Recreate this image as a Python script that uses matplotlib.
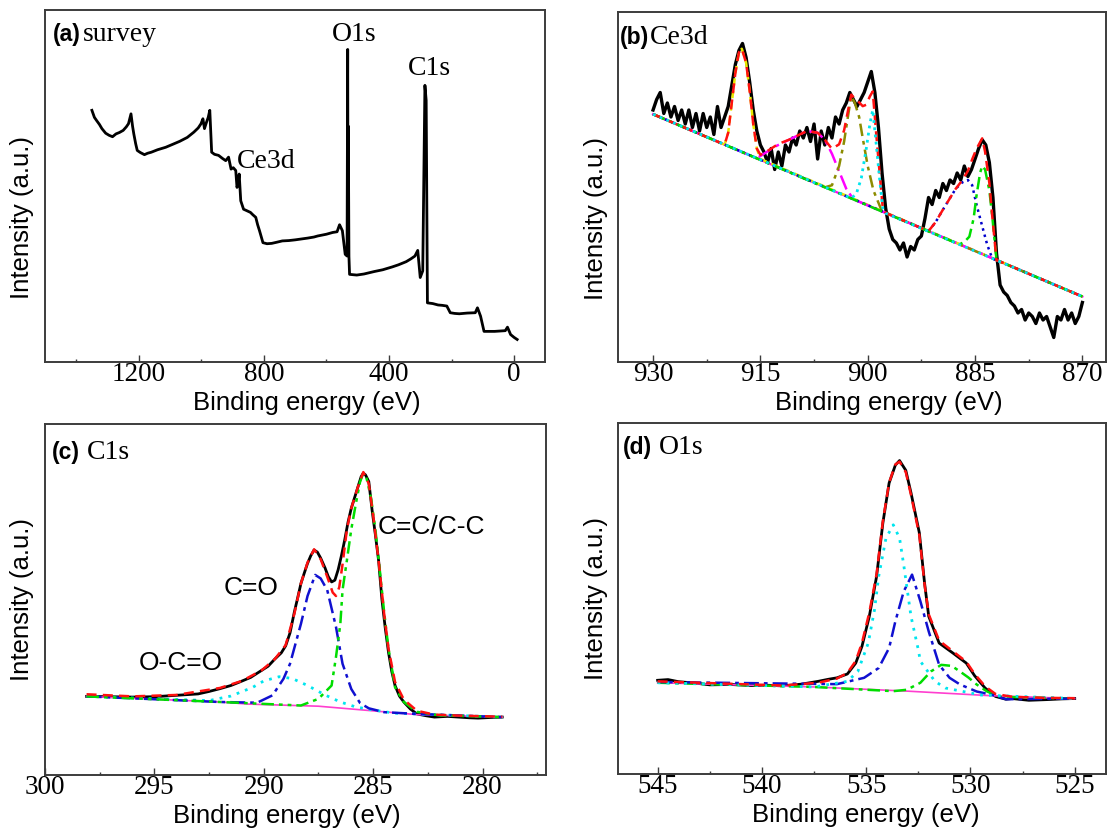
import numpy as np
import matplotlib

matplotlib.use("Agg")
import matplotlib.pyplot as plt

SERIF = "Liberation Serif"
SANS = "Liberation Sans"

# ---- (a) survey ---------------------------------------------------------
survey_be = [1350, 1342, 1335, 1326, 1318, 1306, 1295, 1284, 1273, 1262,
             1250, 1240, 1233, 1225, 1220, 1216, 1210, 1205, 1195, 1182,
             1172, 1160, 1140, 1114, 1090, 1069, 1045, 1024, 1010, 1001,
             995, 990, 984, 978, 973, 967, 958, 945, 932, 922,
             913, 905, 898, 890, 886, 882, 879, 874, 865, 855,
             843, 835, 826, 820, 814, 803, 790, 775, 760, 741,
             720, 700, 684, 660, 640, 628, 600, 580, 566, 558,
             549, 540, 534, 532, 531, 530, 528, 526, 515, 503,
             480, 447, 420, 390, 370, 345, 330, 317, 308, 300,
             292, 285, 281, 277, 260, 243, 230, 215, 204, 190,
             175, 150, 124, 117, 107, 96, 80, 62, 45, 28,
             21, 11, 0, -10]
survey_int = [71.5, 69.5, 68.6, 67.5, 66.3, 65.0, 64.4, 64.0, 64.8, 65.2,
              65.8, 66.8, 67.7, 70.5, 67.0, 64.8, 62.0, 60.1, 59.5, 58.9,
              59.3, 59.6, 60.3, 61.0, 61.9, 62.7, 63.8, 65.3, 66.5, 67.7,
              69.1, 66.3, 68.0, 69.5, 71.5, 59.6, 59.0, 58.7, 57.8, 57.2,
              58.2, 54.8, 55.2, 54.4, 49.6, 51.0, 53.4, 45.8, 43.4, 43.0,
              42.5, 41.8, 41.1, 39.0, 37.3, 33.9, 33.6, 33.7, 34.0, 34.4,
              34.5, 34.7, 34.9, 35.2, 35.5, 35.8, 36.3, 36.8, 37.0, 39.0,
              37.3, 30.6, 30.1, 88.8, 40.0, 67.0, 30.0, 24.9, 24.8, 24.7,
              25.0, 25.7, 26.2, 27.0, 27.6, 28.5, 29.3, 30.1, 31.7, 24.0,
              25.9, 78.6, 74.3, 16.8, 16.6, 16.2, 16.1, 15.9, 14.0, 13.8,
              13.7, 13.9, 14.0, 15.4, 13.0, 8.7, 8.7, 8.7, 8.8, 8.9,
              9.9, 7.8, 7.0, 6.4]

# ---- (b) Ce3d -----------------------------------------------------------
ce_be = np.arange(930.0, 869.9, -0.5)
ce_int = [72, 75, 77, 71, 74, 70, 73, 69, 72, 68,
          72, 67, 71, 66, 71, 67, 70, 65, 73, 67,
          70, 73, 79, 85, 89, 91, 87, 80, 72, 66,
          62, 60, 57, 61, 55, 60, 56, 62, 60, 64,
          62, 66, 64, 67, 63, 68, 58, 66, 62, 67,
          64, 70, 68, 72, 74, 77, 75, 73, 75, 77,
          80, 83, 77, 67, 54, 44, 38, 35, 34, 32,
          34, 30, 33, 32, 35, 36, 41, 47, 45, 49,
          47, 51, 49, 52, 51, 54, 52, 56, 53, 55,
          58, 61, 63.5, 62, 57, 47, 31, 22, 20, 19,
          17, 16, 14, 15, 12, 14, 13, 11, 14, 12,
          13, 10, 7, 13, 12, 15, 12, 14, 11, 13,
          17]

ce_base_be = [930, 870]
ce_base_int = [70.8, 18.7]

ce_fit_be = [930, 920.0, 919.5, 919, 918.5, 918, 917.6, 917, 916.5, 916,
             915.5, 915, 914, 912.5, 911, 909.5, 908.5, 907, 906, 905,
             904, 903.3, 902.7, 902.3, 901.8, 901.2, 900.7, 900.2, 899.7, 899.3,
             898.8, 898.3, 897.9, 897.5, 891.5, 890.5, 889.5, 888.6, 887.7, 886.8,
             886.0, 885.4, 884.8, 884.0, 883.6, 883.0, 882.6, 882.0, 881.5, 870]
ce_fit_int = [70.8, 62.1, 65.5, 74.0, 82.5, 88.5, 89.5, 85.5, 77.5, 68.0,
              61.0, 59.2, 60.3, 62.3, 63.5, 65.0, 66.0, 65.5, 63.5, 60.9,
              62.2, 66.2, 72.4, 76.4, 75.2, 74.2, 73.1, 73.5, 75.9, 77.3,
              64.9, 53.2, 44.0, 42.6, 37.4, 40.0, 43.5, 46.5, 49.5, 51.9,
              54.6, 57.9, 60.9, 63.9, 60.1, 51.1, 41.7, 29.1, 28.7, 18.7]

ce_p1_be = [930, 920.0, 919.5, 919.0, 918.5, 918.0, 917.6, 917.0, 916.5, 916.0, 915.5, 915.0, 870]
ce_p1_int = [70.8, 62.1, 65.5, 74.0, 82.5, 88.5, 89.5, 85.5, 77.5, 68.0, 61.0, 58.0, 18.7]

ce_p2_be = [930, 915.5, 914.5, 913, 911.5, 910, 908.5, 907, 906, 905, 904, 903, 902, 870]
ce_p2_int = [70.8, 58.2, 59.5, 61.5, 63.0, 64.5, 66.0, 65.5, 63.5, 59.5, 54.5, 49.5, 46.5, 18.7]

ce_p3_be = [930, 906, 905, 904, 903.3, 902.7, 902.3, 901.8, 901.2, 900.7, 900.0, 899.2, 898.5, 898.0, 870]
ce_p3_int = [70.8, 49.9, 50.5, 56.0, 63.0, 71.0, 76.0, 74.0, 70.0, 64.0, 56.0, 49.0, 45.5, 43.0, 18.7]

ce_p4_be = [930, 902.3, 901.6, 900.9, 900.2, 899.7, 899.3, 898.8, 898.3, 897.9, 897.5, 870]
ce_p4_int = [70.8, 46.8, 48.0, 52.5, 61.0, 68.0, 72.0, 62.0, 51.5, 44.0, 42.5, 18.7]

ce_p5_be = [930, 891.5, 890.5, 889.5, 888.6, 887.7, 886.8, 886.0, 885.4, 884.8, 884.0, 883.3, 882.6, 870]
ce_p5_int = [70.8, 37.4, 40.0, 43.5, 46.5, 49.5, 51.3, 52.0, 50.5, 45.0, 38.8, 33.5, 29.6, 18.7]

ce_p6_be = [930, 887.2, 886.5, 885.8, 885.2, 884.8, 884.3, 884.0, 883.6, 883.0, 882.6, 882.0, 870]
ce_p6_int = [70.8, 33.6, 34.3, 35.8, 41.0, 47.5, 54.0, 56.0, 55.0, 49.0, 41.7, 29.1, 18.7]

# ---- (c) C1s ------------------------------------------------------------
c1s_be = [298.1, 297.0, 296.0, 295.0, 294.0, 293.0, 292.5, 292.0, 291.5, 291.1,
          290.6, 290.1, 289.8, 289.5, 289.2, 289.0, 288.8, 288.6, 288.45, 288.3,
          288.15, 288.0, 287.85, 287.7, 287.55, 287.4, 287.2, 287.05, 286.9, 286.75,
          286.6, 286.45, 286.3, 286.15, 286.0, 285.85, 285.7, 285.55, 285.45, 285.35,
          285.2, 285.05, 284.9, 284.75, 284.6, 284.45, 284.3, 284.15, 284.0, 283.8,
          283.6, 283.3, 283.0, 282.6, 282.2, 281.6, 281.1, 280.6, 280.2, 279.6, 279.1]
c1s_int = [22.4, 22.3, 22.2, 22.3, 22.7, 23.1, 23.8, 24.6, 25.5, 26.5,
           27.8, 29.8, 31.0, 33.0, 34.8, 36.8, 40.5, 46.5, 50.5, 54.6,
           57.5, 60.3, 62.5, 64.1, 63.5, 61.8, 59.0, 56.5, 55.0, 55.5,
           58.5, 62.5, 67.0, 72.0, 76.0, 79.0, 82.0, 85.0, 86.0, 85.5,
           83.6, 75.5, 68.5, 61.0, 50.0, 42.0, 35.0, 29.5, 25.5, 22.5,
           20.8, 18.8, 17.4, 16.9, 16.5, 16.7, 16.5, 16.3, 16.2, 16.4, 16.5]

c1s_fit_be = [298.1, 296, 294, 292, 291, 290.1, 289.5, 289.0, 288.6, 288.3,
              288.0, 287.7, 287.4, 287.1, 286.85, 286.7, 286.55, 286.4, 286.2, 286.0,
              285.7, 285.45, 285.2, 285.0, 284.75, 284.5, 284.3, 284.0, 283.6, 283.0,
              282.2, 281.0, 279.1]
c1s_fit_int = [23.0, 22.4, 22.8, 24.8, 26.8, 29.8, 33.0, 37.0, 46.0, 54.6,
               60.5, 64.3, 61.5, 56.5, 52.0, 51.0, 53.5, 60.0, 70.0, 76.0,
               82.0, 86.3, 83.0, 74.0, 61.0, 46.0, 36.0, 26.5, 21.5, 18.3,
               17.2, 16.9, 16.6]

c1s_base_be = [298.1, 292.0, 290.7, 287.5, 284.3, 283.0, 279.1]
c1s_base_int = [22.4, 20.8, 20.2, 19.6, 17.9, 17.2, 16.5]

c1s_co_be = [298.1, 292.0, 290.3, 289.6, 289.1, 288.8, 288.3, 288.0, 287.65, 287.4,
             287.1, 286.7, 286.4, 286.0, 285.6, 285.2, 284.5, 283.0, 279.1]
c1s_co_int = [22.4, 20.8, 20.6, 22.7, 27.4, 31.7, 43.1, 51.0, 57.0, 56.0,
              52.7, 42.2, 31.7, 24.5, 20.5, 19.0, 17.9, 17.4, 16.5]

c1s_cc_be = [298.1, 292.0, 288.3, 287.5, 286.9, 286.7, 286.5, 286.4, 286.2, 286.0,
             285.8, 285.6, 285.45, 285.3, 285.1, 284.9, 284.7, 284.5, 284.3, 284.0,
             283.6, 283.0, 282.0, 279.1]
c1s_cc_int = [22.4, 20.8, 19.8, 21.7, 25.5, 33.6, 43.1, 52.7, 61.2, 70.0,
              77.0, 83.5, 86.0, 84.5, 79.0, 70.0, 58.5, 46.5, 36.0, 25.0,
              20.8, 18.0, 17.0, 16.5]

c1s_oco_be = [298.1, 292.5, 291.5, 290.5, 290.0, 289.3, 288.7, 288.0, 287.2, 286.5,
              285.8, 285.0, 284.0, 279.1]
c1s_oco_int = [22.4, 21.2, 22.5, 25.0, 26.8, 28.0, 27.5, 25.5, 22.8, 20.8,
               19.4, 18.5, 17.6, 16.5]

# ---- (d) O1s ------------------------------------------------------------
o1s_be = [545, 544.5, 544, 543.2, 542.5, 541.5, 540.5, 539.8, 539, 538.1,
          537.3, 536.8, 536.4, 535.9, 535.5, 535.2, 534.85, 534.5, 534.2, 533.9,
          533.6, 533.4, 533.1, 532.85, 532.45, 532.2, 532.0, 531.5, 530.85, 530.2,
          529.8, 529.3, 528.8, 528.3, 528.0, 527.2, 526.3, 525.6, 525.0]
o1s_int = [26.7, 26.9, 26.3, 25.9, 25.4, 25.5, 25.2, 25.3, 25.1, 25.6,
           26.4, 27.0, 27.4, 28.5, 31.6, 36.4, 44.9, 56.3, 71.5, 82.9,
           88.0, 89.3, 86.5, 80.1, 68.7, 54.4, 44.9, 37.3, 34.5, 31.6,
           28.0, 24.5, 22.1, 21.3, 21.5, 21.0, 21.2, 21.4, 21.5]

o1s_fit_be = [545, 543, 541, 539, 537.3, 536.4, 535.9, 535.5, 535.2, 534.85,
              534.5, 534.2, 533.9, 533.6, 533.4, 533.1, 532.85, 532.45, 532.2, 532.0,
              531.5, 530.85, 530.2, 529.8, 529.3, 528.8, 528.0, 526.5, 525.0]
o1s_fit_int = [26.4, 26.0, 25.6, 25.2, 26.0, 27.2, 28.8, 32.2, 37.4, 46.0,
               57.0, 72.0, 83.0, 88.2, 89.0, 86.0, 79.5, 68.0, 54.0, 45.5,
               38.0, 35.0, 32.0, 28.5, 25.0, 22.8, 22.0, 21.7, 21.6]

o1s_base_be = [545, 537.5, 533, 529, 525]
o1s_base_int = [26.0, 24.8, 23.6, 22.3, 21.5]

o1s_p1_be = [545, 537.5, 535.9, 535.4, 534.9, 534.6, 534.4, 534.05, 533.7, 533.4,
             533.2, 532.85, 532.5, 532.4, 531.7, 531.2, 529.5, 525]
o1s_p1_int = [26.0, 24.8, 26.4, 29.2, 37.3, 46.8, 56.3, 67.2, 71.0, 67.2,
              59.6, 44.9, 35.4, 32.1, 26.4, 24.5, 22.5, 21.5]

o1s_p2_be = [545, 536.4, 535.1, 534.4, 533.9, 533.6, 533.2, 532.8, 532.4, 532.0,
             531.5, 531.0, 530.5, 529.7, 529.0, 528.3, 525]
o1s_p2_int = [26.2, 25.6, 27.4, 30.2, 35.9, 43.5, 52.0, 56.8, 49.2, 40.6,
              31.1, 27.4, 25.5, 23.5, 22.6, 21.3, 21.5]

o1s_p3_be = [545, 537.5, 533.7, 533.05, 532.4, 531.9, 531.4, 530.9, 530.5, 530.1,
             529.7, 529.2, 528.6, 525]
o1s_p3_int = [26.0, 24.8, 23.6, 24.0, 26.0, 29.2, 31.1, 30.8, 29.2, 27.5,
              25.5, 23.5, 22.0, 21.5]

FRAME = "#3c3c3c"
W, H = 1108, 831


def make_axes(fig, left, top, right, bottom):
    return fig.add_axes([left / W, 1 - bottom / H, (right - left) / W, (bottom - top) / H])


def style(ax, xlim, major, minor, xlab_x, ylab_y):
    ax.set_xlim(*xlim)
    ax.set_ylim(0, 100)
    ax.set_xticks(major)
    ax.set_xticks(minor, minor=True)
    ax.set_xticklabels([str(m) for m in major], fontfamily=SERIF, fontsize=19.5)
    ax.set_yticks([])
    ax.tick_params(axis="x", which="both", direction="in", top=False, pad=0,
                   color=FRAME, width=1.0)
    ax.tick_params(axis="x", which="major", length=5)
    ax.tick_params(axis="x", which="minor", length=2.5)
    for s in ax.spines.values():
        s.set_color(FRAME)
        s.set_linewidth(1.4)
    ax.set_xlabel("Binding energy (eV)", fontfamily=SANS, fontsize=18.5)
    ax.set_ylabel("Intensity (a.u.)", fontfamily=SANS, fontsize=18.5)
    ax.xaxis.set_label_coords(xlab_x, -0.082)
    ax.yaxis.set_label_coords(-0.021, ylab_y)


def panel_tag(ax, tag, name, x_tag, x_name, y):
    ax.text(x_tag, y, tag, transform=ax.transAxes, fontfamily=SANS,
            fontweight="bold", fontsize=16.5, va="center", ha="left")
    ax.text(x_name, y, name, transform=ax.transAxes, fontfamily=SERIF,
            fontsize=20, va="center", ha="left")


fig = plt.figure(figsize=(W / 100, H / 100), dpi=100)

# (a)
ax = make_axes(fig, 45, 10, 545, 362)
ax.plot(survey_be, survey_int, color="black", lw=2.0)
style(ax, (1500, -99), [1200, 800, 400, 0], [1400, 1000, 600, 200], 0.523, 0.41)
panel_tag(ax, "(a)", "survey", 0.016, 0.075, 0.93)
ax.text(510, 93, "O1s", fontfamily=SERIF, fontsize=20, ha="center", va="center")
ax.text(269, 83.5, "C1s", fontfamily=SERIF, fontsize=20, ha="center", va="center")
ax.text(886, 57, "Ce3d", fontfamily=SERIF, fontsize=20, ha="left", va="center")

# (b)
ax = make_axes(fig, 618, 12, 1106, 362)
ax.plot(ce_be, ce_int, color="black", lw=2.4)
ax.plot(ce_base_be, ce_base_int, color="#ff00ff", lw=1.6)
ax.plot(ce_p1_be, ce_p1_int, color="#e8e800", lw=1.8, ls=(0, (3, 2)))
ax.plot(ce_p2_be, ce_p2_int, color="#ff00ff", lw=1.8, ls=(0, (6, 2, 1.5, 2)))
ax.plot(ce_p3_be, ce_p3_int, color="#8c8c00", lw=1.8, ls=(0, (5, 2, 1.5, 2)))
ax.plot(ce_p5_be, ce_p5_int, color="#0000cc", lw=1.8, ls=(0, (1, 1.6)))
ax.plot(ce_p6_be, ce_p6_int, color="#00dd00", lw=1.8, ls=(0, (5, 2, 1.5, 2)))
ax.plot(ce_fit_be, ce_fit_int, color="#ff1010", lw=1.8, ls=(0, (4, 2.5)))
ax.plot(ce_p4_be, ce_p4_int, color="#00e5ee", lw=2.0, ls=(0, (1, 1.6)))
style(ax, (934.9, 866.7), [930, 915, 900, 885, 870], [922.5, 907.5, 892.5, 877.5], 0.555, 0.41)
panel_tag(ax, "(b)", "Ce3d", 0.004, 0.066, 0.927)

# (c)
ax = make_axes(fig, 45, 424, 546, 775)
ax.plot(c1s_be, c1s_int, color="black", lw=2.0)
ax.plot(c1s_base_be, c1s_base_int, color="#ff3ecf", lw=1.2)
ax.plot(c1s_oco_be, c1s_oco_int, color="#00e5ee", lw=2.0, ls=(0, (1, 2.2)))
ax.plot(c1s_co_be, c1s_co_int, color="#1010d0", lw=1.8, ls=(0, (6, 2, 1.5, 2)))
ax.plot(c1s_cc_be, c1s_cc_int, color="#00dd00", lw=1.8, ls=(0, (5, 2, 1.5, 2, 1.5, 2)))
ax.plot(c1s_fit_be, c1s_fit_int, color="#ff1010", lw=1.8, ls=(0, (4, 2.5)))
style(ax, (300, 277.1), [300, 295, 290, 285, 280], [297.5, 292.5, 287.5, 282.5, 277.5], 0.483, 0.5)
panel_tag(ax, "(c)", "C1s", 0.014, 0.083, 0.92)
ax.text(290.6, 53.3, "C=O", fontfamily=SANS, fontsize=19, ha="center", va="center")
ax.text(293.8, 31.9, "O-C=O", fontfamily=SANS, fontsize=19, ha="center", va="center")
ax.text(282.35, 70.7, "C=C/C-C", fontfamily=SANS, fontsize=19, ha="center", va="center")

# (d)
ax = make_axes(fig, 618, 423, 1106, 774)
ax.plot(o1s_be, o1s_int, color="black", lw=2.0)
ax.plot(o1s_base_be, o1s_base_int, color="#ff3ecf", lw=1.2)
ax.plot(o1s_p3_be, o1s_p3_int, color="#00dd00", lw=1.8, ls=(0, (5, 2, 1.5, 2)))
ax.plot(o1s_p2_be, o1s_p2_int, color="#1010d0", lw=1.8, ls=(0, (6, 2, 1.5, 2)))
ax.plot(o1s_p1_be, o1s_p1_int, color="#00e5ee", lw=2.0, ls=(0, (1, 2.2)))
ax.plot(o1s_fit_be, o1s_fit_int, color="#ff1010", lw=1.8, ls=(0, (4, 2.5)))
style(ax, (546.9, 523.5), [545, 540, 535, 530, 525], [542.5, 537.5, 532.5, 527.5], 0.508, 0.5)
panel_tag(ax, "(d)", "O1s", 0.010, 0.083, 0.929)

fig.savefig("out.png", dpi=100)
